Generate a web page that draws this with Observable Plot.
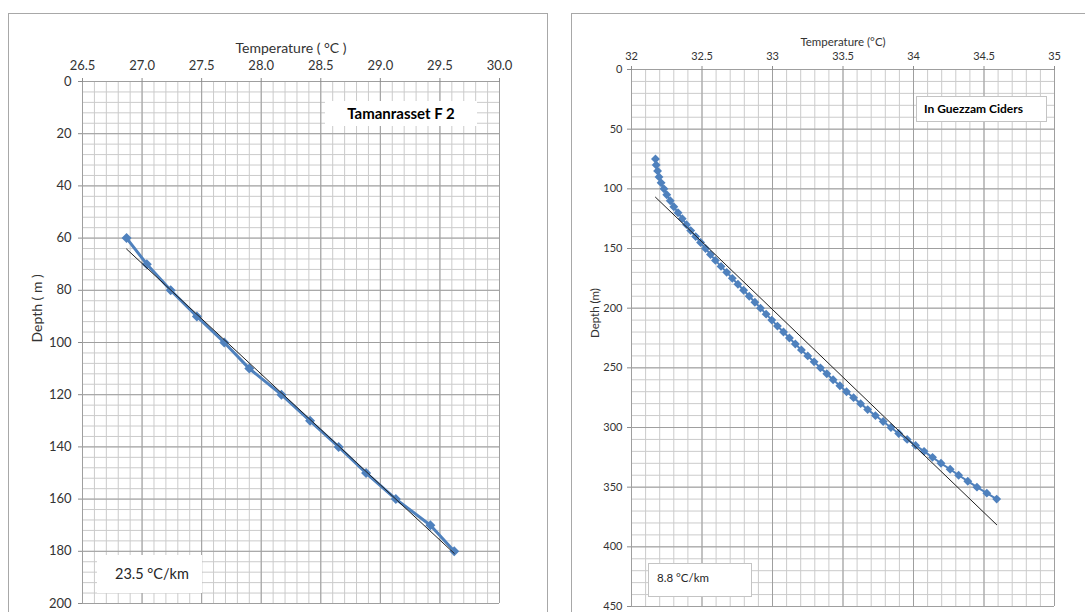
<!DOCTYPE html>
<html><head><meta charset="utf-8">
<script src="https://cdn.jsdelivr.net/npm/d3@7"></script>
<script src="https://cdn.jsdelivr.net/npm/@observablehq/plot@0.6"></script>
<style>
html,body{margin:0;padding:0;background:#fff;width:1085px;height:612px;overflow:hidden;font-family:Lato,"Open Sans",sans-serif;}
.panel{position:absolute;border:1px solid #a8a8a8;box-sizing:border-box;}
.chart{position:absolute;}
.box{position:absolute;background:#fff;box-sizing:border-box;white-space:nowrap;color:#000;}
</style></head><body>
<div class="panel" style="left:8px;top:13px;width:540px;height:640px"></div>
<div class="panel" style="left:571px;top:13px;width:540px;height:640px"></div>
<div id="left" class="chart" style="left:8px;top:13px"></div>
<div id="right" class="chart" style="left:571px;top:13px"></div>
<div class="box" style="left:325px;top:101px;width:152px;height:25px;font-weight:bold;font-size:15px;line-height:25px;text-align:center;">Tamanrasset F 2</div>
<div class="box" style="left:97px;top:555px;width:105px;height:38px;font-size:14.5px;line-height:38px;padding-left:18px;color:#262626;">23.5 °C/km</div>
<div class="box" style="left:916px;top:96px;width:131px;height:26px;border:1px solid #c4c4c4;font-weight:bold;font-size:12px;line-height:24px;padding-left:7px;">In Guezzam Ciders</div>
<div class="box" style="left:648px;top:563px;width:104px;height:34px;border:1px solid #c4c4c4;font-size:11.5px;line-height:28px;padding-left:8px;color:#262626;">8.8 °C/km</div>
<script>
// ---- Left chart: Tamanrasset F 2 ----
const leftTicksTemp = [26.5, 27.0, 27.5, 28.0, 28.5, 29.0, 29.5, 30.0];
const leftTicksDepth = [0, 20, 40, 60, 80, 100, 120, 140, 160, 180, 200];
const leftDepth = [60, 70, 80, 90, 100, 110, 120, 130, 140, 150, 160, 170, 180];
const leftTemp = [26.87, 27.04, 27.24, 27.46, 27.69, 27.90, 28.17, 28.41, 28.65, 28.88, 29.13, 29.42, 29.62];
const leftTrendTemp = [26.87, 29.62];
const leftTrendDepth = [64.2, 180.8];

// ---- Right chart: In Guezzam Ciders ----
const rightTicksTemp = [32, 32.5, 33, 33.5, 34, 34.5, 35];
const rightTicksDepth = [0, 50, 100, 150, 200, 250, 300, 350, 400, 450];
const rightDepth = [75, 80, 85, 90, 95, 100, 105, 110, 115, 120, 125, 130, 135, 140, 145, 150,
  155, 160, 165, 170, 175, 180, 185, 190, 195, 200, 205, 210, 215, 220, 225, 230, 235, 240,
  245, 250, 255, 260, 265, 270, 275, 280, 285, 290, 295, 300, 305, 310, 315, 320, 325, 330,
  335, 340, 345, 350, 355, 360];
const rightTemp = [32.17, 32.175, 32.185, 32.195, 32.21, 32.23, 32.25, 32.275, 32.30, 32.33,
  32.36, 32.39, 32.42, 32.455, 32.49, 32.525, 32.56, 32.595, 32.635, 32.675, 32.715, 32.755,
  32.795, 32.835, 32.875, 32.915, 32.955, 32.995, 33.035, 33.078, 33.12, 33.162, 33.205, 33.25,
  33.295, 33.34, 33.385, 33.43, 33.478, 33.525, 33.575, 33.625, 33.675, 33.73, 33.785, 33.84,
  33.895, 33.955, 34.015, 34.075, 34.135, 34.195, 34.26, 34.32, 34.385, 34.45, 34.52, 34.59];
const rightTrendTemp = [32.17, 34.59];
const rightTrendDepth = [107, 381.5];

function minor(lo, hi, n) {
  const out = [];
  for (let i = 0; i <= n; i++) out.push(lo + (hi - lo) * i / n);
  return out;
}

function panel(o) {
  const data = o.temp.map((t, i) => ({temp: t, depth: o.depth[i]}));
  const trend = o.trendTemp.map((t, i) => ({temp: t, depth: o.trendDepth[i]}));
  const xd = [o.xTicks[0], o.xTicks[o.xTicks.length - 1]];
  const yd = [o.yTicks[0], o.yTicks[o.yTicks.length - 1]];
  return Plot.plot({
    width: o.width, height: o.height,
    marginTop: o.mt, marginBottom: o.mb, marginLeft: o.ml, marginRight: o.mr,
    style: {fontFamily: "Lato, 'Open Sans', sans-serif", fontSize: o.fs + "px", color: "#333", background: "transparent", overflow: "visible"},
    x: {domain: xd},
    y: {domain: yd, reverse: true},
    marks: [
      Plot.gridX(minor(xd[0], xd[1], o.xMinorN), {stroke: "#cbcbcb", strokeOpacity: 1, strokeWidth: 1}),
      Plot.gridY(minor(yd[0], yd[1], o.yMinorN), {stroke: "#cbcbcb", strokeOpacity: 1, strokeWidth: 1}),
      Plot.gridX(o.xTicks, {stroke: "#9f9f9f", strokeOpacity: 1, strokeWidth: 1}),
      Plot.gridY(o.yTicks, {stroke: "#9f9f9f", strokeOpacity: 1, strokeWidth: 1}),
      Plot.axisX(o.xTicks, {anchor: "top", tickSize: 4, tickPadding: o.xPad, tickFormat: o.xFormat, label: null, stroke: "#8c8c8c", fill: "#333", fontSize: o.fs}),
      Plot.axisY(o.yTicks, {anchor: "left", tickSize: 4, tickPadding: o.yPad, tickFormat: d => String(d), label: null, stroke: "#8c8c8c", fill: "#333", fontSize: o.fs}),
      Plot.text([o.xLabel], {frameAnchor: "top", dy: o.xLabelDy, text: d => d, fontSize: o.lfs, fill: "#333"}),
      Plot.text([o.yLabel], {frameAnchor: "left", dx: o.yLabelDx, rotate: -90, text: d => d, fontSize: o.lfs, fill: "#333"}),
      Plot.line(data, {x: "temp", y: "depth", stroke: "#4F81BD", strokeWidth: o.lw}),
      Plot.dot(data, {x: "temp", y: "depth", symbol: "diamond2", r: o.r, fill: "#4F81BD", stroke: "none"}),
      Plot.line(trend, {x: "temp", y: "depth", stroke: "#1f1f1f", strokeWidth: o.tw})
    ]
  });
}

document.getElementById("left").append(panel({
  width: 539, height: 599, mt: 68, mb: 9, ml: 74, mr: 48,
  xTicks: leftTicksTemp, yTicks: leftTicksDepth, xMinorN: 35, yMinorN: 50,
  temp: leftTemp, depth: leftDepth, trendTemp: leftTrendTemp, trendDepth: leftTrendDepth,
  xFormat: d => d.toFixed(1), fs: 13, lfs: 14, xPad: 8, yPad: 7,
  xLabel: "Temperature ( °C )", yLabel: "Depth ( m )", xLabelDy: -38, yLabelDx: -45,
  lw: 3, r: 4.5, tw: 1
}));

document.getElementById("right").append(panel({
  width: 514, height: 599, mt: 56, mb: 6, ml: 60, mr: 31,
  xTicks: rightTicksTemp, yTicks: rightTicksDepth, xMinorN: 30, yMinorN: 45,
  temp: rightTemp, depth: rightDepth, trendTemp: rightTrendTemp, trendDepth: rightTrendDepth,
  xFormat: d => String(d), fs: 11, lfs: 11.5, xPad: 6, yPad: 5,
  xLabel: "Temperature (°C)", yLabel: "Depth (m)", xLabelDy: -32, yLabelDx: -36,
  lw: 2, r: 4, tw: 1
}));
</script>
</body></html>
